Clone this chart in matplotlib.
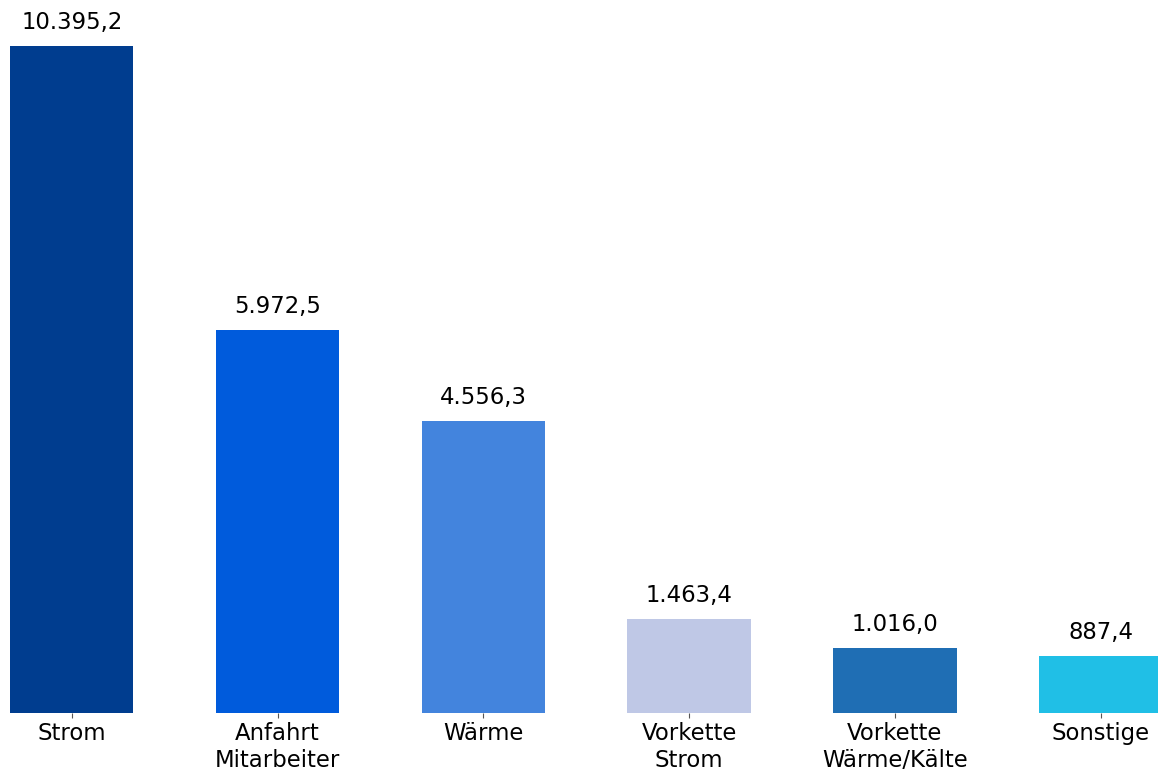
import matplotlib
matplotlib.use("Agg")
import matplotlib.pyplot as plt

# Daten (t CO2e)
kategorien = ["Strom", "Anfahrt\nMitarbeiter", "Wärme", "Vorkette\nStrom", "Vorkette\nWärme/Kälte", "Sonstige"]
werte = [10395.2, 5972.5, 4556.3, 1463.4, 1016.0, 887.4]
farben = ["#003D8F", "#005BDC", "#4384DD", "#BFC8E6", "#1F6EB4", "#20BFE6"]


def fmt_de(v):
    s = f"{v:,.1f}"
    return s.replace(",", "X").replace(".", ",").replace("X", ".")


fig = plt.figure(figsize=(11.58, 7.71), dpi=100)
ax = fig.add_axes([10 / 1158, 58 / 771, 1148 / 1158, 713 / 771])

x = range(len(kategorien))
balken = ax.bar(x, werte, width=0.6, color=farben)

for b, v in zip(balken, werte):
    ax.annotate(fmt_de(v), (b.get_x() + b.get_width() / 2, b.get_height()),
                xytext=(0, 8.5), textcoords="offset points",
                ha="center", va="bottom", fontsize=16.4, color="black")

ax.set_xlim(-0.3, 5.278)
ax.set_ylim(0, 11113)
ax.set_xticks(list(x))
ax.set_xticklabels(kategorien, fontsize=16.4)
ax.tick_params(axis="x", length=3.5, color="#555555", pad=3)
ax.set_yticks([])
for s in ax.spines.values():
    s.set_visible(False)

fig.savefig("out.png", dpi=100)
